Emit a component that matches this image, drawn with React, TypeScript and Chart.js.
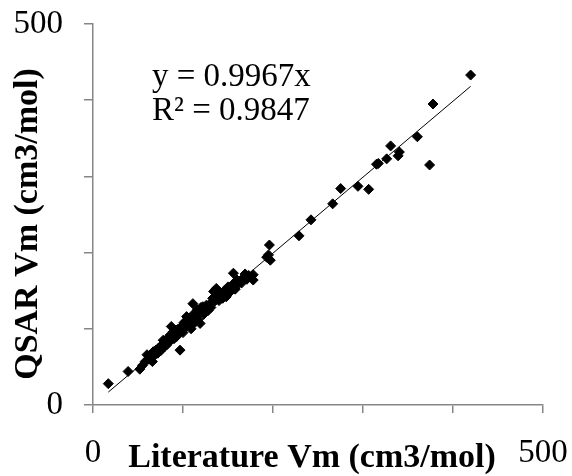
import React, { useEffect, useRef } from "react";
import { Chart, registerables } from "chart.js";

Chart.register(...registerables);

// Literature Vm (x) and QSAR Vm (y), cm3/mol
const literatureVm = [
  17, 39, 52, 55, 58, 60, 62, 64, 66, 67, 69, 70, 72, 73, 75, 76, 77, 78, 79, 80,
  81, 82, 83, 84, 85, 86, 87, 88, 89, 90, 91, 92, 93, 94, 95, 96.7, 97, 98, 99, 100,
  101, 102, 103, 104, 105, 106, 107, 108, 109, 110, 111, 112, 113, 114, 115, 116, 117, 118, 119, 120,
  121, 122, 123, 125, 126, 128, 130, 131, 133, 134, 135, 137, 138, 140, 142, 144, 146, 148, 150, 152,
  155, 156, 158, 160, 162, 165, 167, 169, 171, 173, 175, 178, 178, 193, 195, 196, 197, 228.9, 242.2, 266.3,
  275.2, 294.4, 306.3, 315, 317, 326.3, 330.7, 339, 340.4, 360.4, 374, 377.8, 419.6,
];
const qsarVm = [
  28, 44, 47, 52, 57, 66, 60, 63, 57, 70, 66, 72, 68, 75, 71, 78, 74, 85, 80, 77,
  84, 79, 88, 82, 86, 92, 103, 90, 96, 87, 93, 98, 90, 99, 94, 72, 100, 98, 104, 95,
  108, 101, 110, 116, 104, 112, 107, 115, 100, 111, 133, 118, 108, 122, 116, 125, 112, 120, 107, 128,
  122, 129, 119, 127, 131, 124, 133, 128, 140, 149, 136, 153, 141, 137, 146, 140, 150, 142, 155, 148,
  158, 173, 152, 164, 160, 160, 167, 172, 165, 170, 168, 171, 164, 194, 197, 210, 190, 222, 243, 264,
  284, 287, 283, 316, 317, 323, 340, 327, 332, 352, 315, 395, 433,
];

const trendSlope = 0.9967;
const trendX = [17, 419.6];
const equationLines = ["y = 0.9967x", "R\u00B2 = 0.9847"];
const xTitle = "Literature Vm (cm3/mol)";
const yTitle = "QSAR Vm (cm3/mol)";
const axisMin = 0;
const axisMax = 500;
const axisStep = 100;
const shownTicks = [0, 500];

const SERIF = "'Liberation Serif', 'Times New Roman', serif";
const AXIS_GREY = "#868686";

const textPlugin = {
  id: "textPlugin",
  afterDraw(chart: any) {
    const ctx = chart.ctx;
    ctx.save();
    ctx.fillStyle = "#000";
    // equation
    ctx.font = `33px ${SERIF}`;
    ctx.textAlign = "left";
    ctx.textBaseline = "alphabetic";
    equationLines.forEach((t, i) => ctx.fillText(t, 152, 86 + i * 34));
    // x title
    ctx.font = `bold 34px ${SERIF}`;
    ctx.textAlign = "center";
    ctx.fillText(xTitle, 312, 467);
    // y title
    ctx.translate(37, 224);
    ctx.rotate(-Math.PI / 2);
    ctx.fillText(yTitle, 0, 0);
    ctx.restore();
  },
};

export default function App() {
  const canvasRef = useRef<HTMLCanvasElement | null>(null);

  useEffect(() => {
    document.body.style.margin = "0";
    const canvas = canvasRef.current;
    if (!canvas) return;
    const points = literatureVm.map((x, i) => ({ x, y: qsarVm[i] }));
    const trend = trendX.map((x) => ({ x, y: trendSlope * x }));

    const tickCb = (v: any) => (shownTicks.includes(Number(v)) ? String(v) : "");

    const chart = new Chart(canvas, {
      type: "scatter",
      data: {
        datasets: [
          {
            type: "line",
            data: trend,
            borderColor: "#000",
            borderWidth: 1,
            pointRadius: 0,
            fill: false,
            order: 2,
          } as any,
          {
            data: points,
            pointStyle: "rectRot",
            pointRadius: 5,
            pointBackgroundColor: "#000",
            pointBorderColor: "#000",
            pointBorderWidth: 1,
            order: 1,
          },
        ],
      },
      options: {
        animation: false,
        responsive: false,
        layout: { padding: { top: 24, right: 29, left: 0, bottom: 0 } },
        plugins: {
          legend: { display: false },
          tooltip: { enabled: false },
        },
        scales: {
          x: {
            type: "linear",
            min: axisMin,
            max: axisMax,
            border: { color: AXIS_GREY, width: 1.5 },
            grid: {
              drawOnChartArea: false,
              drawTicks: true,
              tickLength: 8,
              color: AXIS_GREY,
              lineWidth: 1.5,
            },
            ticks: {
              stepSize: axisStep,
              callback: tickCb,
              padding: 21,
              maxRotation: 0,
              autoSkip: false,
              color: "#000",
              font: { family: SERIF, size: 33 },
            },
            afterFit: (s: any) => {
              s.height = 71;
              s.paddingLeft = 0;
              s.paddingRight = 0;
            },
          },
          y: {
            type: "linear",
            min: axisMin,
            max: axisMax,
            border: { color: AXIS_GREY, width: 1.5 },
            grid: {
              drawOnChartArea: false,
              drawTicks: true,
              tickLength: 9,
              color: AXIS_GREY,
              lineWidth: 1.5,
            },
            ticks: {
              stepSize: axisStep,
              callback: tickCb,
              padding: 21,
              autoSkip: false,
              color: "#000",
              font: { family: SERIF, size: 33 },
            },
            afterFit: (s: any) => {
              s.width = 93;
              s.paddingTop = 0;
              s.paddingBottom = 0;
            },
          },
        },
      },
      plugins: [textPlugin],
    });
    return () => chart.destroy();
  }, []);

  return (
    <div style={{ width: 572, height: 476, background: "#fff" }}>
      <canvas ref={canvasRef} width={572} height={476} style={{ display: "block" }} />
    </div>
  );
}
